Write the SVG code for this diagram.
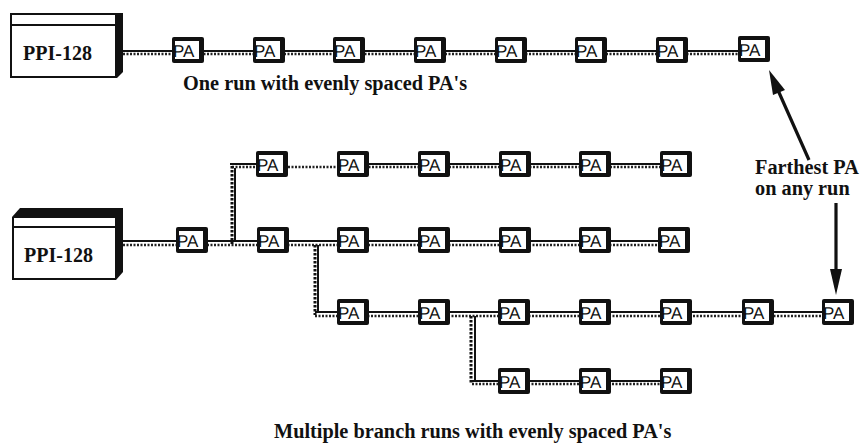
<svg xmlns="http://www.w3.org/2000/svg" width="862" height="444" viewBox="0 0 862 444">
<style>
text{fill:#111;font-family:"Liberation Serif","Times New Roman",serif;font-weight:700}
.t{font-size:20px}.c{font-size:20.3px}
.pa rect.o{fill:#111}.pa rect.i{fill:#fff}
.pa text{font-family:"Liberation Sans",Arial,sans-serif;font-weight:400;font-size:17px;text-rendering:geometricPrecision}
.k{stroke:#111;stroke-width:2;fill:none}
.d{stroke:#222;stroke-width:2.5;stroke-dasharray:2 1.5;fill:none}
.v{stroke:#111;stroke-width:3;stroke-dasharray:2.5 1.5;fill:none}
.a{stroke:#111;stroke-width:3.2;fill:none}
</style>
<defs>
<g id="p" class="pa"><rect class="o" x="0" y="0" width="32" height="26" rx="2"/><rect class="i" x="3" y="4" width="24" height="18"/><text x="1" y="20">PA</text></g>
</defs>
<g id="connectors">
<path class="k" d="M123 51H740M123 241H340M340 164H660M340 241H660M315 312H825M472 381H660M230 164H260"/>
<path class="d" d="M123 54H740M123 245H660M232 167H660M315 316H825M472 384H660"/>
<path class="v" d="M232 166V244M315 245V315M471 316V383"/>
<path class="k" d="M235 168V241M318 245V312M475 316V381"/>
<path class="a" d="M809 160L777 88M836 203V272"/>
<polygon points="769,70 785,90 773,95" fill="#111"/>
<polygon points="836,295 830,269 842,269" fill="#111"/>
</g>
<g id="ppi1"><rect x="10" y="13" width="113" height="65" fill="#111"/><path d="M117 78L123 72V78Z" fill="#fff"/><rect x="12" y="15" width="103" height="61" fill="#fff"/><rect x="12" y="24" width="103" height="2" fill="#111"/><text class="t" x="23" y="60">PPI-128</text></g>
<g id="ppi2"><path d="M12 217L20 208H123V272L116 280H12Z" fill="#111"/><rect x="14" y="218" width="101" height="60" fill="#fff"/><rect x="14" y="226" width="101" height="2" fill="#111"/><text class="t" x="24" y="262">PPI-128</text></g>
<g id="top-run">
<use id="t1" href="#p" x="172" y="37"/><use id="t2" href="#p" x="253" y="37"/><use id="t3" href="#p" x="333" y="37"/><use id="t4" href="#p" x="414" y="37"/><use id="t5" href="#p" x="495" y="37"/><use id="t6" href="#p" x="575" y="37"/><use id="t7" href="#p" x="656" y="37"/><use id="t8" href="#p" x="738" y="36"/>
</g>
<g id="row1">
<use id="a1" href="#p" x="256" y="151"/><use id="a2" href="#p" x="337" y="151"/><use id="a3" href="#p" x="418" y="151"/><use id="a4" href="#p" x="499" y="151"/><use id="a5" href="#p" x="579" y="151"/><use id="a6" href="#p" x="660" y="151"/>
</g>
<g id="row2">
<use id="b0" href="#p" x="176" y="227"/><use id="b1" href="#p" x="257" y="227"/><use id="b2" href="#p" x="337" y="227"/><use id="b3" href="#p" x="418" y="227"/><use id="b4" href="#p" x="499" y="227"/><use id="b5" href="#p" x="579" y="227"/><use id="b6" href="#p" x="658" y="227"/>
</g>
<g id="row3">
<use id="c1" href="#p" x="337" y="299"/><use id="c2" href="#p" x="418" y="299"/><use id="c3" href="#p" x="498" y="299"/><use id="c4" href="#p" x="579" y="299"/><use id="c5" href="#p" x="660" y="299"/><use id="c6" href="#p" x="742" y="299"/><use id="c7" href="#p" x="822" y="299"/>
</g>
<g id="row4">
<use id="d1" href="#p" x="498" y="368"/><use id="d2" href="#p" x="579" y="368"/><use id="d3" href="#p" x="660" y="368"/>
</g>
<g id="labels">
<text class="c" x="183" y="90">One run with evenly spaced PA's</text>
<text class="c" x="755" y="174">Farthest PA</text>
<text class="c" x="755" y="195">on any run</text>
<text class="c" x="274" y="438">Multiple branch runs with evenly spaced PA's</text>
</g>
</svg>
